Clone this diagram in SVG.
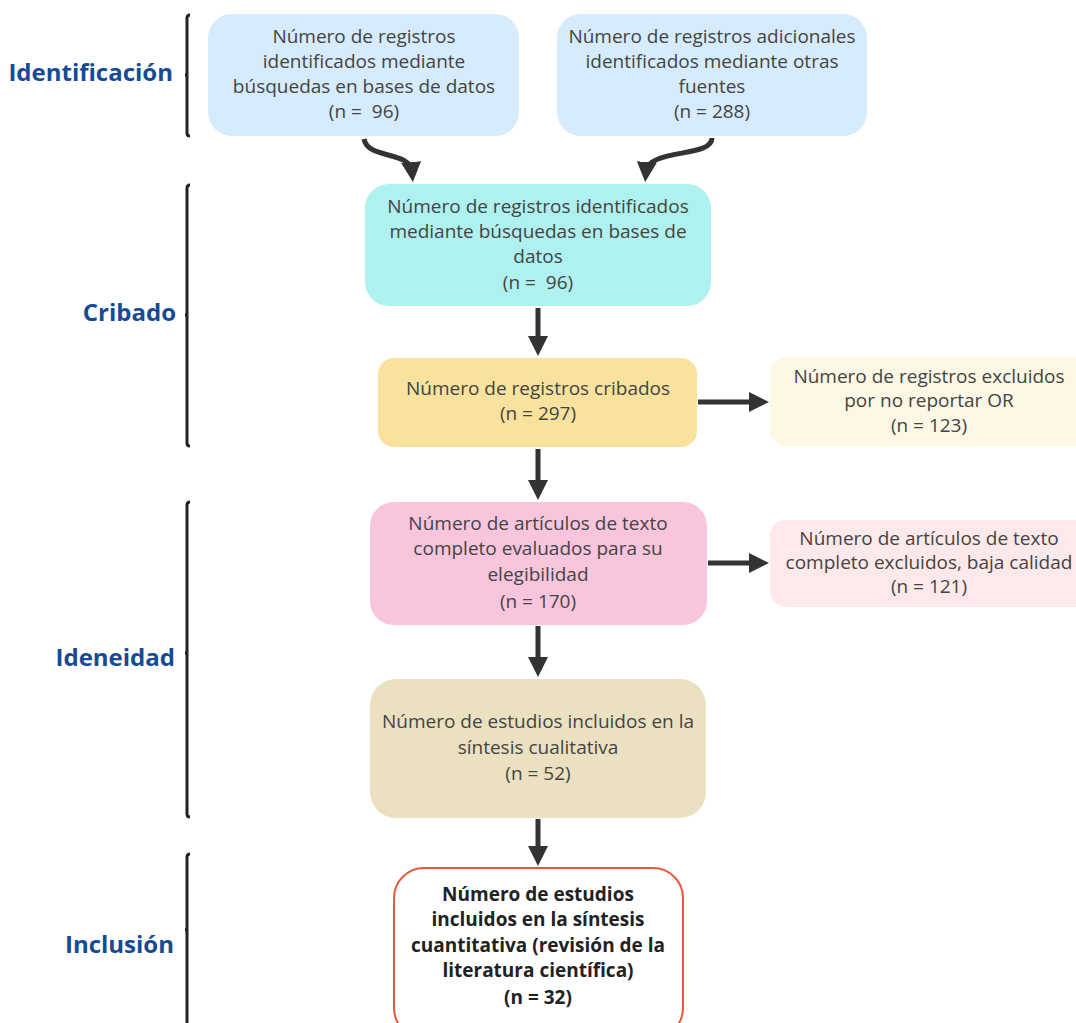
<svg xmlns="http://www.w3.org/2000/svg" width="1076" height="1023" viewBox="0 0 1076 1023">
<style>
.t{font-family:"Open Sans","Noto Sans",sans-serif;font-size:19px;fill:#444;text-anchor:middle;white-space:pre}
.b{font-family:"Open Sans","Noto Sans",sans-serif;font-size:19px;font-weight:bold;fill:#222;text-anchor:middle}
.lab{font-family:"Open Sans","Noto Sans",sans-serif;font-size:24px;font-weight:bold;fill:#174a94;text-anchor:end}
.br{fill:none;stroke:#222;stroke-width:3}
.c{fill:none;stroke:#333;stroke-width:5}
</style>
<defs>
<marker id="ah" markerWidth="4" markerHeight="4" refX="2" refY="2" orient="auto" markerUnits="strokeWidth">
<path d="M0,0 L4,2 L0,4 Z" fill="#333"/>
</marker>
</defs>
<rect width="1076" height="1023" fill="#fff"/>

<g id="labels">
<text class="lab" x="173" y="81">Identificación</text>
<text class="lab" x="176" y="321">Cribado</text>
<text class="lab" x="175" y="666">Ideneidad</text>
<text class="lab" x="174" y="953">Inclusión</text>
<path class="br" d="M190,15 Q187,15 187,18 L187,133 Q187,136 190,136 M187,75 L185,75"/>
<path class="br" d="M190,185 Q187,185 187,188 L187,443 Q187,446 190,446 M187,315 L185,315"/>
<path class="br" d="M190,502 Q187,502 187,505 L187,814 Q187,817 190,817 M187,653 L185,653"/>
<path class="br" d="M190,854 Q187,854 187,857 L187,1023 M187,930 L185,930"/>
</g>

<g id="connectors">
<path class="c" d="M364,139 C368,160 410,150 412,172" marker-end="url(#ah)"/>
<path class="c" d="M712,138 C712,158 648,148 646,172" marker-end="url(#ah)"/>
<path class="c" d="M538,308 L538,346" marker-end="url(#ah)"/>
<path class="c" d="M538,449 L538,490" marker-end="url(#ah)"/>
<path class="c" d="M538,626 L538,667" marker-end="url(#ah)"/>
<path class="c" d="M538,819 L538,856" marker-end="url(#ah)"/>
<path class="c" d="M698,402 L759,402" marker-end="url(#ah)"/>
<path class="c" d="M708,563 L759,563" marker-end="url(#ah)"/>
</g>

<g id="n1">
<rect x="208" y="14" width="311" height="122" rx="24" fill="#d6ebfb"/>
<text class="t" x="364" y="43">Número de registros</text>
<text class="t" x="364" y="68">identificados mediante</text>
<text class="t" x="364" y="93">búsquedas en bases de datos</text>
<text class="t" x="364" y="118">(n =  96)</text>
</g>
<g id="n2">
<rect x="557" y="14" width="310" height="122" rx="24" fill="#d6ebfb"/>
<text class="t" x="712" y="43">Número de registros adicionales</text>
<text class="t" x="712" y="68">identificados mediante otras</text>
<text class="t" x="712" y="93">fuentes</text>
<text class="t" x="712" y="118">(n = 288)</text>
</g>
<g id="n3">
<rect x="365" y="184" width="346" height="122" rx="24" fill="#aef1ee"/>
<text class="t" x="538" y="213">Número de registros identificados</text>
<text class="t" x="538" y="238">mediante búsquedas en bases de</text>
<text class="t" x="538" y="263">datos</text>
<text class="t" x="538" y="289">(n =  96)</text>
</g>
<g id="n4">
<rect x="378" y="358" width="319" height="89" rx="16" fill="#f8e29d"/>
<text class="t" x="538" y="395">Número de registros cribados</text>
<text class="t" x="538" y="420">(n = 297)</text>
</g>
<g id="n5">
<rect x="770" y="357" width="320" height="89" rx="16" fill="#fdf7e5"/>
<text class="t" x="929" y="383">Número de registros excluidos</text>
<text class="t" x="929" y="407">por no reportar OR</text>
<text class="t" x="929" y="432">(n = 123)</text>
</g>
<g id="n6">
<rect x="370" y="502" width="337" height="123" rx="24" fill="#f9c5dd"/>
<text class="t" x="538" y="530">Número de artículos de texto</text>
<text class="t" x="538" y="555">completo evaluados para su</text>
<text class="t" x="538" y="581">elegibilidad</text>
<text class="t" x="538" y="608">(n = 170)</text>
</g>
<g id="n7">
<rect x="770" y="520" width="320" height="87" rx="16" fill="#fde8ea"/>
<text class="t" x="929" y="545">Número de artículos de texto</text>
<text class="t" x="929" y="569">completo excluidos, baja calidad</text>
<text class="t" x="929" y="593">(n = 121)</text>
</g>
<g id="n8">
<rect x="370" y="679" width="336" height="139" rx="26" fill="#ebe1c0"/>
<text class="t" x="538" y="728">Número de estudios incluidos en la</text>
<text class="t" x="538" y="754">síntesis cualitativa</text>
<text class="t" x="538" y="780">(n = 52)</text>
</g>
<g id="n9">
<rect x="394" y="868" width="289" height="170" rx="30" fill="#fff" stroke="#e8583c" stroke-width="2"/>
<text class="b" x="538" y="901">Número de estudios</text>
<text class="b" x="538" y="926">incluidos en la síntesis</text>
<text class="b" x="538" y="952">cuantitativa (revisión de la</text>
<text class="b" x="538" y="977">literatura científica)</text>
<text class="b" x="538" y="1004">(n = 32)</text>
</g>
</svg>
